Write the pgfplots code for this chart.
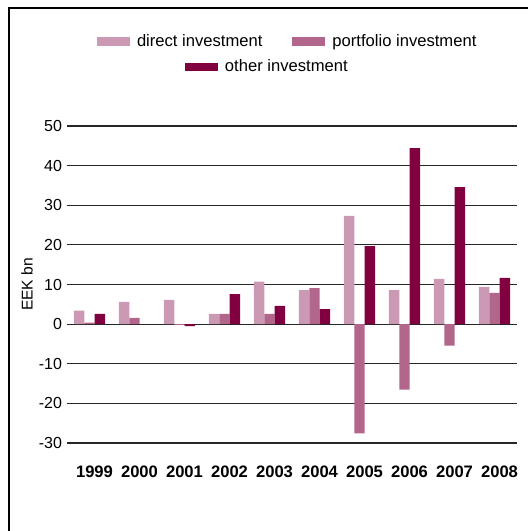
\documentclass[border=0pt]{standalone}
\usepackage{fontspec}
\setmainfont{Liberation Sans}
\usepackage{pgfplots}
\pgfplotsset{compat=1.18}
\definecolor{cdir}{RGB}{204,153,181}
\definecolor{cpor}{RGB}{179,102,140}
\definecolor{coth}{RGB}{128,0,64}
\pgfplotsset{
  mylegend/.style={
    legend style={draw=none, fill=none, inner sep=0pt, outer sep=0pt,
      font=\fontsize{8.3}{10}\selectfont,
      /tikz/every odd column/.append style={column sep=1.5pt},
      /tikz/every even column/.append style={column sep=13pt}},
    legend image code/.code={\fill[##1] (0pt,-2.1pt) rectangle (16.5pt,2.1pt);},
  }
}
\begin{document}
\begin{tikzpicture}
\useasboundingbox (0,0) rectangle (264pt,265.5pt);
\draw[line width=0.75pt] (4.5pt,0) -- (4.5pt,261.5pt) -- (264pt,261.5pt);
\begin{axis}[
  at={(33.5pt,44pt)}, anchor=south west, scale only axis,
  width=225pt, height=158.5pt,
  xmin=-0.5, xmax=9.5, ymin=-30, ymax=50,
  ybar=0pt, bar width=5.2pt,
  axis line style={draw=none}, major tick length=0pt,
  ytick={-30,-20,-10,0,10,20,30,40,50},
  ymajorgrids, grid style={black!85, line width=0.6pt},
  xtick={0,1,2,3,4,5,6,7,8,9},
  xticklabels={1999,2000,2001,2002,2003,2004,2005,2006,2007,2008},
  xticklabel style={font=\bfseries\fontsize{8.3}{10}\selectfont, yshift=-8pt, xshift=2.5pt},
  yticklabel style={font=\fontsize{8}{9}\selectfont, xshift=1pt},
  /pgf/number format/assume math mode=true,
  ylabel={EEK bn},
  ylabel style={at={(axis description cs:-0.0889,0.5)}, anchor=center, font=\fontsize{7.8}{9}\selectfont},
  mylegend,
  legend columns=2,
  legend style={at={(0.0667,1.2666)}, anchor=west},
]
\addplot[fill=cdir, draw=none] coordinates {(0,3.4) (1,5.6) (2,6.1) (3,2.6) (4,10.7) (5,8.6) (6,27.3) (7,8.6) (8,11.4) (9,9.4)};
\addplot[fill=cpor, draw=none] coordinates {(0,0.4) (1,1.6) (2,-0.2) (3,2.6) (4,2.6) (5,9.1) (6,-27.6) (7,-16.5) (8,-5.4) (9,7.9)};
\addplot[fill=coth, draw=none] coordinates {(0,2.6) (1,0) (2,-0.5) (3,7.6) (4,4.6) (5,3.8) (6,19.7) (7,44.4) (8,34.6) (9,11.7)};
\legend{direct investment, portfolio investment}
\end{axis}
\begin{axis}[
  at={(33.5pt,44pt)}, anchor=south west, scale only axis,
  width=225pt, height=158.5pt,
  xmin=0, xmax=1, ymin=0, ymax=1, hide axis,
  mylegend,
  legend style={at={(0.2622,1.186)}, anchor=west},
]
\addlegendimage{fill=coth, draw=none}
\addlegendentry{other investment}
\end{axis}
\end{tikzpicture}
\end{document}
